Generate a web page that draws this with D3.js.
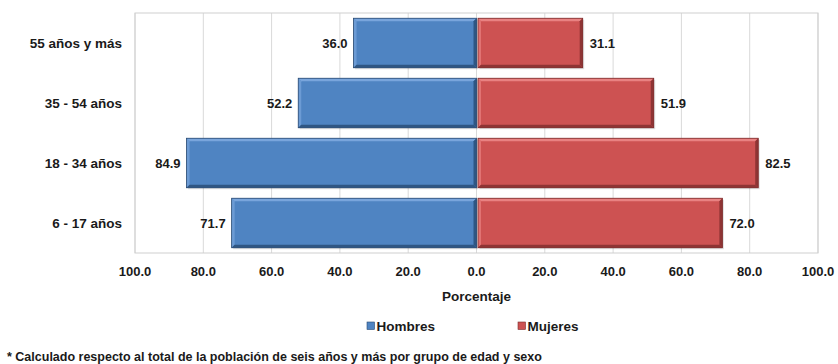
<!DOCTYPE html>
<html>
<head>
<meta charset="utf-8">
<script src="https://cdn.jsdelivr.net/npm/d3@7"></script>
<style>
  html, body { margin: 0; padding: 0; background: #ffffff; }
  svg { display: block; font-family: "Liberation Sans", Arial, sans-serif; }
</style>
</head>
<body>
<svg id="chart" width="838" height="364"></svg>
<script>
// Age groups, top to bottom
const categories = ["55 años y más", "35 - 54 años", "18 - 34 años", "6 - 17 años"];
// Percentage by sex for each age group
const hombres = [36.0, 52.2, 84.9, 71.7];
const mujeres = [31.1, 51.9, 82.5, 72.0];
// Axis ticks (absolute values on both sides of zero)
const tickValues = [-100, -80, -60, -40, -20, 0, 20, 40, 60, 80, 100];
const seriesNames = ["Hombres", "Mujeres"];
const footnote = "* Calculado respecto al total de la población de seis años y más por grupo de edad y sexo";
const axisTitle = "Porcentaje";

const svg = d3.select("#chart");
const plot = { left: 135, right: 818, top: 13, bottom: 253 };

const x = d3.scaleLinear().domain([-100, 100]).range([plot.left, plot.right]);
const y = d3.scaleBand().domain(categories).range([plot.top, plot.bottom])
  .paddingInner(0.175).paddingOuter(0.0875);

const colors = {
  Hombres: { base: "#4f84c2", light: "#79a5dc", dark: "#2f5683", edge: "#2a4a72" },
  Mujeres: { base: "#cd5252", light: "#e98282", dark: "#8e3434", edge: "#7a2c2c" }
};

// Vertical gridlines
svg.append("g").selectAll("line").data(tickValues).join("line")
  .attr("x1", d => x(d)).attr("x2", d => x(d))
  .attr("y1", plot.top).attr("y2", plot.bottom)
  .attr("stroke", "#d9d9d9").attr("stroke-width", 1);

// Plot frame
svg.append("rect")
  .attr("x", plot.left).attr("y", plot.top)
  .attr("width", plot.right - plot.left).attr("height", plot.bottom - plot.top)
  .attr("fill", "none").attr("stroke", "#cfcfcf").attr("stroke-width", 1);

// Bar rows: one entry per bar
const rows = [];
categories.forEach((c, i) => {
  rows.push({ cat: c, series: "Hombres", v: hombres[i], x0: x(-hombres[i]), x1: x(0) });
  rows.push({ cat: c, series: "Mujeres", v: mujeres[i], x0: x(0) + 1.5, x1: x(mujeres[i]) });
});

const bars = svg.append("g").selectAll("g").data(rows).join("g");
const bevel = 3;

function poly(pts) { return "M" + pts.map(p => p.join(",")).join("L") + "Z"; }

bars.each(function(d) {
  const g = d3.select(this);
  const c = colors[d.series];
  const x0 = d.x0, x1 = d.x1, y0 = y(d.cat), y1 = y(d.cat) + y.bandwidth();
  // soft shadow
  g.append("rect").attr("x", x0 + 1.5).attr("y", y0 + 1.5)
    .attr("width", x1 - x0).attr("height", y1 - y0)
    .attr("fill", "#000").attr("opacity", 0.12);
  g.append("rect").attr("x", x0).attr("y", y0)
    .attr("width", x1 - x0).attr("height", y1 - y0).attr("fill", c.base);
  g.append("path").attr("fill", c.light)
    .attr("d", poly([[x0, y0], [x1, y0], [x1 - bevel, y0 + bevel], [x0 + bevel, y0 + bevel]]));
  g.append("path").attr("fill", c.light).attr("opacity", 0.7)
    .attr("d", poly([[x0, y0], [x0 + bevel, y0 + bevel], [x0 + bevel, y1 - bevel], [x0, y1]]));
  g.append("path").attr("fill", c.dark)
    .attr("d", poly([[x0, y1], [x0 + bevel, y1 - bevel], [x1 - bevel, y1 - bevel], [x1, y1]]));
  g.append("path").attr("fill", c.dark)
    .attr("d", poly([[x1, y0], [x1, y1], [x1 - bevel, y1 - bevel], [x1 - bevel, y0 + bevel]]));
  g.append("rect").attr("x", x0).attr("y", y0)
    .attr("width", x1 - x0).attr("height", y1 - y0)
    .attr("fill", "none").attr("stroke", c.edge).attr("stroke-width", 0.8);
});

// Value labels
svg.append("g").selectAll("text").data(rows).join("text")
  .attr("x", d => d.series === "Hombres" ? d.x0 - 6 : d.x1 + 7)
  .attr("y", d => y(d.cat) + y.bandwidth() / 2)
  .attr("dy", "0.35em")
  .attr("text-anchor", d => d.series === "Hombres" ? "end" : "start")
  .attr("font-size", 13).attr("font-weight", "bold").attr("fill", "#1a1a1a")
  .text(d => d.v.toFixed(1));

// Category axis labels
svg.append("g").selectAll("text").data(categories).join("text")
  .attr("x", 122)
  .attr("y", d => y(d) + y.bandwidth() / 2)
  .attr("dy", "0.35em")
  .attr("text-anchor", "end")
  .attr("font-size", 13.5).attr("font-weight", "bold").attr("fill", "#1a1a1a")
  .text(d => d);

// Bottom axis tick labels
svg.append("g").selectAll("text").data(tickValues).join("text")
  .attr("x", d => x(d)).attr("y", 271).attr("dy", "0.35em")
  .attr("text-anchor", "middle")
  .attr("font-size", 13).attr("font-weight", "bold").attr("fill", "#1a1a1a")
  .text(d => Math.abs(d).toFixed(1));

// Axis title
svg.append("text").attr("x", x(0)).attr("y", 296).attr("dy", "0.35em")
  .attr("text-anchor", "middle").attr("font-size", 13.5).attr("font-weight", "bold")
  .attr("fill", "#1a1a1a").text(axisTitle);

// Legend
const legendX = { Hombres: 367, Mujeres: 518 };
const lg = svg.append("g").selectAll("g").data(seriesNames).join("g")
  .attr("transform", d => `translate(${legendX[d]},326)`);
lg.append("rect").attr("x", 0).attr("y", -4).attr("width", 7.5).attr("height", 7.5)
  .attr("fill", d => colors[d].base).attr("stroke", d => colors[d].edge).attr("stroke-width", 0.6);
lg.append("text").attr("x", 9.5).attr("dy", "0.35em")
  .attr("font-size", 13.5).attr("font-weight", "bold").attr("fill", "#1a1a1a")
  .text(d => d);

// Footnote
svg.append("text").attr("x", 7).attr("y", 357).attr("dy", "0.35em")
  .attr("font-size", 12.5).attr("font-weight", "bold").attr("fill", "#1a1a1a")
  .text(footnote);
</script>
</body>
</html>
